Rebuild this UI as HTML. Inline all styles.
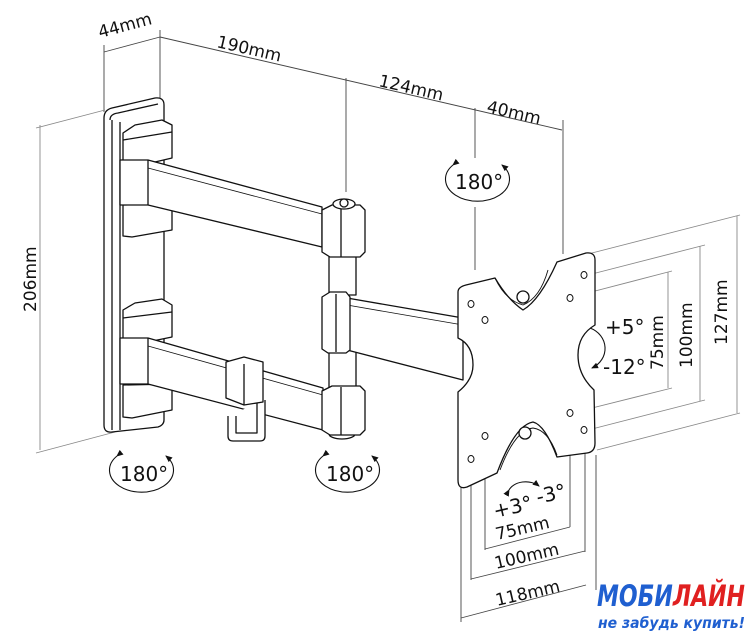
<!DOCTYPE html>
<html><head><meta charset="utf-8"><style>
html,body{margin:0;padding:0;background:#fff;}
svg{display:block;}
text{font-family:"DejaVu Sans","Liberation Sans",sans-serif;fill:#111;}
</style></head><body>
<svg width="756" height="640" viewBox="0 0 756 640" xmlns="http://www.w3.org/2000/svg">
<defs>
<marker id="ah" markerWidth="8" markerHeight="8" refX="6" refY="3" orient="auto" markerUnits="userSpaceOnUse"><path d="M0,0 L7,3 L0,6 z" fill="#111"/></marker>
</defs>
<g stroke="#444" stroke-width="0.9" fill="none">
<line x1="104" y1="52" x2="160" y2="37"/>
<line x1="160" y1="37" x2="562" y2="130"/>
<line x1="104" y1="45" x2="104" y2="112"/>
<line x1="160" y1="30" x2="160" y2="100"/>
<line x1="346" y1="78" x2="346" y2="192"/>
<line x1="475" y1="108" x2="475" y2="158"/>
<line x1="475" y1="207" x2="475" y2="270"/>
<line x1="563" y1="120" x2="563" y2="254"/>
<line x1="40" y1="125" x2="40" y2="450" stroke="#888"/>
<line x1="36" y1="128" x2="105" y2="110" stroke="#888"/>
<line x1="36" y1="453" x2="115" y2="432" stroke="#888"/>
<line x1="588" y1="254" x2="740" y2="215" stroke="#888"/>
<line x1="588" y1="275" x2="705" y2="245" stroke="#888"/>
<line x1="572" y1="297" x2="672" y2="271" stroke="#888"/>
<line x1="572" y1="413" x2="672" y2="388" stroke="#888"/>
<line x1="588" y1="430" x2="705" y2="400" stroke="#888"/>
<line x1="597" y1="450" x2="740" y2="413" stroke="#888"/>
<line x1="668" y1="272" x2="668" y2="388" stroke="#888"/>
<line x1="700" y1="246" x2="700" y2="401" stroke="#888"/>
<line x1="737" y1="216" x2="737" y2="413" stroke="#888"/>
<line x1="461" y1="487" x2="461" y2="622"/>
<line x1="471" y1="462" x2="471" y2="580"/>
<line x1="485" y1="439" x2="485" y2="550"/>
<line x1="570" y1="416" x2="570" y2="527"/>
<line x1="585" y1="433" x2="585" y2="552"/>
<line x1="596" y1="455" x2="596" y2="590"/>
<line x1="485" y1="549" x2="570" y2="527"/>
<line x1="471" y1="579" x2="585" y2="551"/>
<line x1="461" y1="618" x2="586" y2="585"/>
</g>
<g font-size="17">
<text transform="translate(100,38) rotate(-15)">44mm</text>
<text transform="translate(216,47) rotate(13)">190mm</text>
<text transform="translate(378,86) rotate(13)">124mm</text>
<text transform="translate(486,112) rotate(13)">40mm</text>
<text transform="translate(36,312) rotate(-90)">206mm</text>
<text transform="translate(663,370) rotate(-90)">75mm</text>
<text transform="translate(692,368) rotate(-90)">100mm</text>
<text transform="translate(727,345) rotate(-90)">127mm</text>
<text transform="translate(497,540) rotate(-13)">75mm</text>
<text transform="translate(496,569) rotate(-13)">100mm</text>
<text transform="translate(497,606) rotate(-13)">118mm</text>
</g>
<g stroke="#111" stroke-width="1.1" fill="none">
<path d="M117,456 A32,22 0 1 0 166,456" marker-start="url(#ah)" marker-end="url(#ah)"/>
<path d="M323,456 A32,22 0 1 0 372,456" marker-start="url(#ah)" marker-end="url(#ah)"/>
<path d="M453,165 A32,22 0 1 0 502,165" marker-start="url(#ah)" marker-end="url(#ah)"/>
<path d="M590,328 A24,22 0 0 1 592,368" marker-start="url(#ah)" marker-end="url(#ah)"/>
<path d="M509,490 A18,13 0 0 1 539,486" marker-start="url(#ah)" marker-end="url(#ah)"/>
</g>
<g font-size="20">
<text x="120" y="481">180°</text>
<text x="326" y="481">180°</text>
<text x="455" y="189">180°</text>
<text x="605" y="334">+5°</text>
<text x="603" y="374">-12°</text>
<text transform="translate(495,518) rotate(-13)">+3°</text>
<text transform="translate(538,504) rotate(-13)">-3°</text>
</g>
<g stroke="#111" stroke-width="1.3" fill="#fff" stroke-linejoin="round">
<path d="M104,118 Q104,110 112,108 L155,98 Q164,97 164,105 L164,420 Q164,425 158,427 L112,432 Q104,433 104,425 Z"/>
<path d="M110,120 Q110,114 118,113 L158,104" fill="none"/>
<line x1="112" y1="120" x2="112" y2="430"/>
<line x1="120" y1="122" x2="120" y2="430"/>
<path d="M123,133 L135,125 L162,120 L172,125 L172,158 L138,166 L123,165 Z"/>
<line x1="123" y1="140" x2="172" y2="132"/>
<path d="M123,205 L172,203 L172,230 L132,237 L123,236 Z"/>
<path d="M120,160 L148,160 L322,207 L322,247 L148,205 L120,205 Z"/>
<line x1="148" y1="160" x2="148" y2="205"/>
<line x1="148" y1="168" x2="322" y2="214" stroke-width="0.8"/>
<path d="M123,310 L135,303 L162,299 L172,305 L172,337 L138,344 L123,343 Z"/>
<line x1="123" y1="318" x2="172" y2="312"/>
<path d="M123,385 L172,384 L172,410 L132,418 L123,417 Z"/>
<path d="M120,338 L148,338 L323,388 L323,430 L148,384 L120,384 Z"/>
<line x1="148" y1="338" x2="148" y2="384"/>
<line x1="148" y1="346" x2="323" y2="395" stroke-width="0.8"/>
<path d="M228,416 L228,436 Q228,441 233,441 L260,441 Q265,441 265,436 L265,400" />
<path d="M236,416 L236,433 L257,433 L257,400" fill="none"/>
<path d="M226,362 L244,357 L263,362 L263,402 L244,405 L226,398 Z"/>
<line x1="244" y1="364" x2="244" y2="405"/>
<rect x="329" y="255" width="27" height="40"/>
<rect x="329" y="348" width="27" height="42"/>
<ellipse cx="342" cy="434" rx="13" ry="5"/>
<path d="M347,298 L463,318 L463,380 L347,350 Z"/>
<line x1="347" y1="305" x2="463" y2="325" stroke-width="0.8"/>
<path d="M322,210 L332,205 L360,205 L365,210 L365,252 L360,257 L330,257 L322,252 Z"/>
<line x1="341" y1="206" x2="341" y2="257"/>
<ellipse cx="344" cy="204" rx="11" ry="5"/>
<circle cx="344" cy="203" r="4"/>
<path d="M322,297 L330,292 L346,292 L350,297 L350,350 L346,353 L328,353 L322,349 Z"/>
<line x1="336" y1="294" x2="336" y2="352"/>
<path d="M322,391 L332,386 L360,386 L365,391 L365,430 L360,435 L330,435 L322,430 Z"/>
<line x1="341" y1="387" x2="341" y2="435"/>
<path d="M466,285 L495,278 Q508,300 523,310 Q540,300 557,262 L586,253 Q595,252 595,260 L595,325 Q578,335 578,355 Q578,375 594,390 L595,443 Q595,452 587,453 L557,457 Q545,425 533,422 Q515,425 497,473 L467,487 Q458,490 458,480 L458,392 Q473,380 473,365 Q473,345 458,338 L458,292 Q458,287 466,285 Z"/>
<path d="M495,278 Q505,300 523,305 Q540,298 548,270" fill="none" stroke-width="0.9"/>
<path d="M500,470 Q515,430 533,428 Q548,430 557,455" fill="none" stroke-width="0.9"/>
<circle cx="523" cy="297" r="6"/><circle cx="525" cy="433" r="6"/>
<g stroke-width="1"><ellipse cx="584" cy="275" rx="3" ry="3.5"/><ellipse cx="570" cy="298" rx="3" ry="3.5"/><ellipse cx="471" cy="304" rx="3" ry="3.5"/><ellipse cx="485" cy="320" rx="3" ry="3.5"/><ellipse cx="570" cy="413" rx="3" ry="3.5"/><ellipse cx="584" cy="430" rx="3" ry="3.5"/><ellipse cx="485" cy="436" rx="3" ry="3.5"/><ellipse cx="471" cy="459" rx="3" ry="3.5"/></g>
</g>
<text x="597" y="606" textLength="148" lengthAdjust="spacingAndGlyphs" font-family="'Liberation Sans',sans-serif" font-size="29" font-weight="bold" font-style="italic" style="fill:#1f5fd0">МОБИ<tspan style="fill:#e02020">ЛАЙН</tspan></text>
<text x="598" y="628" textLength="147" lengthAdjust="spacingAndGlyphs" font-family="'Liberation Sans',sans-serif" font-size="15" font-weight="bold" font-style="italic" style="fill:#1f5fd0">не забудь купить!</text>
</svg>
</body></html>
